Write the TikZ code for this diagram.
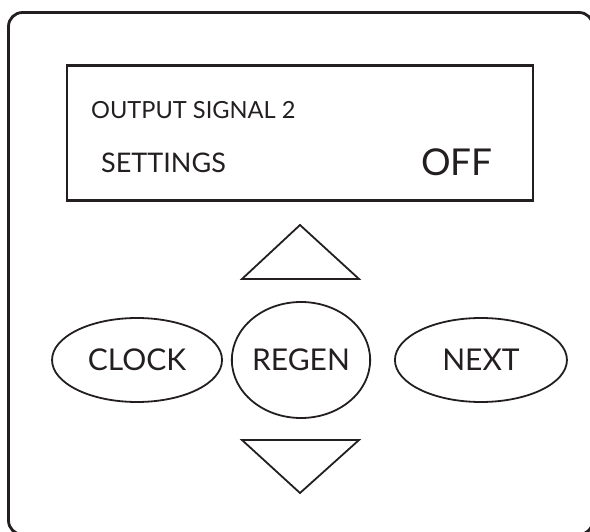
\documentclass[tikz,border=0pt]{standalone}
\usepackage{fontspec}
\setmainfont{Lato}
\usepackage{tikz}
\usetikzlibrary{shapes.geometric,positioning}
\definecolor{ink}{HTML}{231F20}

\begin{document}
\begin{tikzpicture}[x=1pt,y=-1pt,
    panel/.style={draw=ink,line width=2.8pt,rounded corners=14pt},
    screen/.style={draw=ink,line width=2.4pt,minimum width=466pt,minimum height=135pt,inner sep=0pt},
    lcd/.style={inner sep=0pt,anchor=base west,text=ink},
    key/.style={draw=ink,line width=1.8pt,ellipse,inner sep=0pt,text=ink,font=\fontsize{30}{30}\selectfont},
    arrowkey/.style={draw=ink,line width=1.8pt,line join=miter}]
  \useasboundingbox (0,0) rectangle (590,532);
  \clip (0,0) rectangle (590,532);
  \draw[panel] (8.5,12.5) rectangle (593,534.5);
  \node[screen] (lcd) at (300,133) {};
  \node[lcd,font=\fontsize{23.6}{24}\selectfont] (title) at (91,119) {OUTPUT SIGNAL 2};
  \node[lcd,font=\fontsize{27}{27}\selectfont] (setting) at (101,173) {SETTINGS};
  \node[lcd,font=\fontsize{37}{37}\selectfont] (state) at (421,176) {OFF};
  \node[key,minimum width=114pt,minimum height=116pt] (regen) at (301,360) {REGEN};
  \node[key,minimum width=170pt,minimum height=84pt,left=8pt of regen] (clock) {CLOCK};
  \node[key,minimum width=172pt,minimum height=84pt,right=23pt of regen] (next) {NEXT};
  \coordinate (up) at (300,225);
  \coordinate (down) at (300,493);
  \draw[arrowkey] (up) -- (359,279) -- (242,279) -- cycle;
  \draw[arrowkey] (down) -- (359,440) -- (242,440) -- cycle;
\end{tikzpicture}
\end{document}
